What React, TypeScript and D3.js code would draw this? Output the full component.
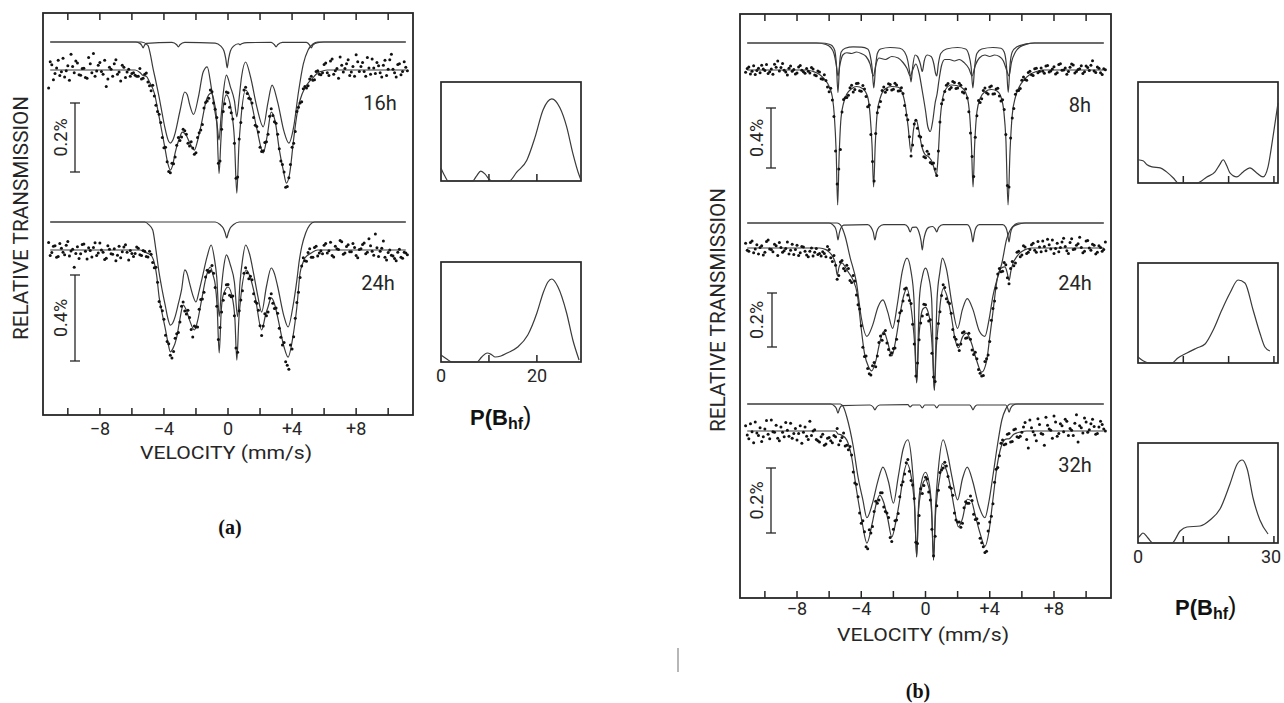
import React from "react";
import * as d3 from "d3";

type Pt = [number, number];
type Block = [number, number[]];

// ---------------- axis values ----------------
const velocityTicks = [-10, -8, -6, -4, -2, 0, 2, 4, 6, 8, 10];
const velocityLabels = [-8, -4, 0, 4, 8];
const channelStep = 0.2;

// ============ panel (a), 16 h (absorption in 0.01 % units) ============
const fitA16: Pt[] = [[-11.1,0],[-5.8,0],[-5.5,0.7],[-5.3,1.6],[-5.1,1.8],[-4.9,3.5],[-4.6,6.7],[-4.3,13.6],[-3.95,22.3],[-3.75,27.2],[-3.6,29],[-3.45,27.5],[-3.3,24],[-3.05,20],[-2.85,18],[-2.6,19],[-2.4,21],[-2.1,23.2],[-1.9,20.5],[-1.65,15.4],[-1.35,8.7],[-1.05,6.7],[-0.85,9.5],[-0.7,15],[-0.56,30],[-0.45,21],[-0.35,13],[-0.1,7.2],[0.2,11.6],[0.4,20],[0.55,35.7],[0.68,22],[0.8,14.5],[1.1,5.8],[1.4,8.5],[1.8,17],[2.2,24],[2.45,19],[2.7,12.2],[2.95,15],[3.2,23],[3.45,29],[3.65,32.8],[3.85,30],[4.1,20],[4.3,13],[4.5,8.7],[4.8,5.2],[5.05,3.5],[5.3,2.3],[5.6,0.8],[5.9,0.3],[6.2,0],[11.1,0]];
const broadA16: Pt[] = [[-11.1,0],[-5.4,0],[-5.0,1.0],[-4.85,3.5],[-4.7,7.2],[-4.5,11.5],[-4.3,16],[-4.1,21],[-3.95,24.6],[-3.75,28.3],[-3.6,29.3],[-3.45,28.5],[-3.3,26.4],[-3.0,20],[-2.7,14.5],[-2.55,15.2],[-2.4,18],[-2.15,21],[-1.85,16],[-1.55,8.7],[-1.3,7.2],[-1.05,13],[-0.82,20],[-0.68,24],[-0.56,28.4],[-0.44,22],[-0.3,15],[-0.1,9.6],[0.15,13],[0.4,17],[0.55,21.7],[0.7,16],[0.85,10],[1.1,5.8],[1.4,10],[1.8,18.8],[2.2,24.6],[2.5,17.4],[2.75,12.5],[3.1,17.4],[3.5,26],[3.8,29.3],[4.1,24.6],[4.4,14.5],[4.7,6.4],[5.0,2.3],[5.3,0.6],[5.6,0],[11.1,0]];
const sharpA16: Pt[] = [[-11.1,0],[-5.8,0],[-5.5,0.4],[-5.38,1.0],[-5.3,1.7],[-5.22,1.0],[-5.1,0.4],[-3.5,0.1],[-3.2,0.8],[-3.1,1.4],[-3.0,0.8],[-2.7,0.1],[-0.8,0.3],[-0.45,1.2],[-0.25,2.6],[-0.14,4.8],[-0.05,7.5],[0.04,4.8],[0.15,2.6],[0.35,1.2],[0.65,0.5],[0.75,0.8],[0.85,0.5],[1.2,0.2],[2.7,0.1],[2.9,0.8],[3.0,1.4],[3.1,0.8],[3.4,0.1],[4.9,0.1],[5.1,0.9],[5.2,1.7],[5.3,0.9],[5.6,0.2],[6,0],[11.1,0]];
const dataA16: Block[] = [
  [-11.2, [5.2,-1.5,1.0,-2.8,0.5,2.0,-1.2,-4.6,0.8,-2.0,1.5,-0.5,2.4,-1.8,-4.8,0.3,-2.2,1.2,4.8,-0.8,1.8,-3.0,0.6,-1.4,2.2,-0.2,1.0]],
  [-11.1, [-2.4,2.8,-0.6,1.6,-3.4,0.2,3.0,-1.0,-2.6,1.4,-0.4,2.2,-3.6,0.8,1.8,-1.4,0.4,-2.8,2.6,-0.2,-1.8,1.2,3.2,-0.8,0.6,1.8,0.8]],
  [-5.8, [1.5,1.8,2.6,1.2,3.5, 6.0,7.5,12.0,15.2,22.5, 26.6,29.8,27.2,21.8,20.4, 17.2,18.6,22.0,22.6,24.0, 18.2,15.8,9.4,8.2,6.3, 11.4,27.0,17.2,9.8,6.6, 12.4,21.2,31.0,15.2,5.8, 6.8,8.4,13.8,16.4,22.4, 23.4,20.8,13.4,13.2,15.4, 22.8,27.4,34.0,31.2,22.4, 17.8,10.8,9.2,4.8,4.6, 1.8,2.8,0.2,1.4]],
  [-5.7, [1.8,-0.4,2.4,0.9,4.6,4.4,10.2,12.8,19.6,22.4, 29.4,27.0,25.2,19.6,19.4,17.6,21.2,20.8,24.4,19.6, 17.4,11.0,9.0,5.8,9.6,13.8,26.4,12.0,6.4,10.8, 14.2,31.4,20.0,11.0,5.0,8.2,9.6,16.0,18.0,23.6, 21.0,18.6,11.2,15.0,18.6,26.4,29.6,33.8,27.4,21.2, 12.0,9.6,5.4,5.2,2.6,3.0,0.4,1.2]],
  [5.9, [0.8,-2.0,1.6,-3.2,0.2,2.4,-1.4,-0.4,-3.0,0.6,1.8,-2.4,-1.0,0.4,-3.6,1.2,-0.6,-2.2,0.8,-1.4,1.6,-3.0,-0.2,2.0,-1.8,0.4,-0.8]],
  [6.0, [-1.6,0.8,-2.6,1.2,-0.4,-3.8,0.6,-1.8,1.6,-1.0,-4.4,0.4,-2.2,1.8,-0.6,-3.2,1.0,-1.2,2.0,-2.8,-0.2,-4.6,0.8,-1.6,1.4,-2.4,0.2]],
];

// ============ panel (a), 24 h ============
const fitA24: Pt[] = [[-11.1,0],[-5.5,0],[-5.2,1.0],[-4.8,2.5],[-4.6,6],[-4.45,12],[-4.3,21.9],[-4.1,30],[-3.9,37.2],[-3.75,43],[-3.6,47.4],[-3.45,46],[-3.2,40.5],[-3.0,32],[-2.8,25.6],[-2.6,28],[-2.4,32.6],[-2.1,37.2],[-1.9,33],[-1.65,23.3],[-1.35,12],[-1.1,7.9],[-0.92,12],[-0.8,16],[-0.68,26],[-0.55,47.9],[-0.42,28],[-0.3,21],[0,17.2],[0.3,23.3],[0.43,32],[0.55,51.2],[0.68,32],[0.8,21.9],[1.15,9.3],[1.4,13],[1.7,21.9],[2.1,37.2],[2.35,30],[2.5,26.5],[2.7,22.3],[2.9,25],[3.1,31.2],[3.5,45.1],[3.75,49.8],[4.05,40.5],[4.3,26.5],[4.5,10.7],[4.65,6.5],[4.8,3.7],[5.2,1.4],[5.6,0],[11.1,0]];
const broadA24: Pt[] = [[-11.1,0],[-5.2,0],[-4.95,1.2],[-4.7,3.7],[-4.5,13],[-4.3,23.7],[-4.1,32],[-3.9,39.5],[-3.75,45],[-3.6,48],[-3.45,47],[-3.3,44],[-3.1,38],[-2.9,31.6],[-2.7,22.3],[-2.55,24],[-2.4,28.4],[-2.2,34],[-2.0,37.2],[-1.8,32],[-1.6,25.6],[-1.3,16],[-1.05,10.7],[-0.85,17],[-0.7,26],[-0.55,44],[-0.4,30],[-0.25,20],[-0.1,15.3],[0.15,20],[0.4,28],[0.6,44],[0.75,28],[0.9,18],[1.1,10.7],[1.35,15],[1.6,24],[1.85,34],[2.1,41.9],[2.4,30],[2.7,21.4],[2.9,24],[3.1,30],[3.5,44],[3.75,48.8],[4.05,39.5],[4.3,27],[4.45,18],[4.6,11.6],[4.85,5.1],[5.1,1.4],[5.4,0],[11.1,0]];
const sharpA24: Pt[] = [[-11.1,0],[-0.8,0],[-0.5,1.2],[-0.3,2.8],[-0.18,5.0],[-0.08,7.4],[0.02,5.0],[0.14,2.8],[0.35,1.2],[0.7,0],[11.1,0]];
const dataA24: Block[] = [
  [-11.2, [-3.5,1.2,-2.0,3.0,-0.8,2.2,-4.0,0.5,8.0,-1.5,1.8,-2.8,4.2,0.2,-1.2,2.6,-3.2,1.0,3.8,-0.4,2.0,5.0,-1.8,0.8,-2.4,4.6,1.6]],
  [-11.1, [2.6,-1.8,3.4,-3.0,1.0,-2.2,2.8,-0.4,1.6,4.0,-2.6,0.6,-1.0,3.2,-3.4,1.4,0.0,4.4,-2.0,1.8,-0.6,2.4,3.6,-1.4,1.0,0.2,3.0]],
  [-5.8, [1.6,-0.8,2.5,0.6,3.2, 2.0,8.2,15.0,26.4,32.2, 42.5,49.0,47.2,39.0,33.5, 24.2,29.8,31.4,40.5,35.8, 27.6,22.8,12.6,10.4,7.2, 17.4,41.6,28.8,20.2,16.0, 21.8,30.6,47.5,23.2,10.8, 10.6,12.2,20.4,24.8,35.2, 35.4,30.6,22.4,24.8,27.0, 36.4,44.2,52.0,55.5,46.0, 31.8,19.6,7.4,5.0,1.2, 3.4,-1.2,2.8,0.4]],
  [-5.7, [-1.4,2.2,0.2,3.0,0.6,5.8,8.0,24.0,28.2,39.6, 43.6,50.2,41.0,38.4,26.2,28.4,28.0,37.0,35.4,35.8, 23.0,19.6,9.4,9.8,10.8,26.2,36.0,23.4,16.2,21.0, 21.4,45.6,28.2,19.0,8.2,13.4,13.8,24.0,28.0,39.8, 29.6,28.8,20.4,27.2,29.4,40.6,43.0,53.6,44.2,40.4, 24.4,12.8,3.6,5.2,-0.6,3.4,-1.8,1.4]],
  [5.9, [1.8,-3.0,0.4,2.6,-1.8,-0.2,-3.8,1.4,-2.4,0.8,-1.2,3.6,-0.6,-3.2,1.0,-2.0,2.4,-1.0,0.6,-4.2,4.6,0.0,2.8,5.0,-0.4,3.8,1.4]],
  [6.0, [-2.2,1.4,-3.6,3.2,-0.6,-4.4,2.0,-1.6,0.8,-3.0,2.6,-0.2,-2.6,1.8,-5.2,0.6,-7.5,3.0,-0.8,3.4,1.2,2.4,4.0,1.0,3.4,1.0,2.2]],
];

// ============ panel (b), 8 h ============
const fitB8: Pt[] = [[-11.1,0],[-7.4,0],[-7.0,1],[-6.6,3],[-6.3,6],[-6.0,11],[-5.8,18],[-5.68,30],[-5.56,55],[-5.47,90],[-5.38,58],[-5.26,32],[-5.1,22],[-4.9,16],[-4.6,12.5],[-4.3,11],[-3.9,12.5],[-3.6,18],[-3.45,30],[-3.33,50],[-3.23,78],[-3.13,50],[-3.0,28],[-2.8,18],[-2.5,12.5],[-2.1,11],[-1.7,11.5],[-1.45,15],[-1.25,24],[-1.08,38],[-0.9,55],[-0.75,40],[-0.58,33],[-0.42,40],[-0.25,50],[-0.05,56],[0.2,58],[0.4,61],[0.55,66],[0.68,70],[0.8,55],[0.92,32],[1.05,20],[1.25,13],[1.6,10],[2.0,10.5],[2.35,12.5],[2.6,18],[2.75,30],[2.86,50],[2.96,78],[3.06,50],[3.2,28],[3.4,19],[3.7,14.5],[4.1,13],[4.45,14],[4.7,18],[4.88,28],[5.0,45],[5.14,90],[5.26,55],[5.4,30],[5.6,18],[5.85,11],[6.1,7],[6.5,3],[6.9,1],[7.3,0],[11.1,0]];
const broadB8: Pt[] = [[-11.1,0],[-6.8,0],[-6.2,1],[-5.9,3],[-5.7,7],[-5.55,15],[-5.45,22],[-5.32,14],[-5.15,8],[-4.9,6.5],[-4.6,7],[-4.3,6],[-4.0,7],[-3.7,9],[-3.45,14],[-3.25,22],[-3.08,14],[-2.9,10],[-2.5,11],[-2.1,9],[-1.7,10],[-1.4,13],[-1.15,17],[-0.95,22],[-0.8,18],[-0.6,14],[-0.4,20],[-0.2,32],[0.0,45],[0.15,56],[0.3,59],[0.45,52],[0.6,40],[0.72,34],[0.85,24],[1.0,15],[1.2,11],[1.5,11],[1.8,12],[2.1,11],[2.4,13],[2.7,17],[2.9,22],[3.1,15],[3.35,10],[3.7,8],[4.0,9],[4.3,8],[4.6,9],[4.85,12],[5.05,18],[5.2,22],[5.35,13],[5.6,6],[5.9,2.5],[6.3,0.8],[6.8,0],[11.1,0]];
const sharpB8: Pt[] = [[-11.1,0],[-6.5,0],[-6.0,0.8],[-5.8,2],[-5.65,5],[-5.55,14],[-5.45,33],[-5.35,14],[-5.25,6],[-5.0,3.5],[-4.5,2.6],[-4.0,2.8],[-3.6,4],[-3.45,8],[-3.33,16],[-3.22,30],[-3.11,16],[-3.0,7],[-2.8,4],[-2.2,3],[-1.6,3.5],[-1.3,6],[-1.1,12],[-0.98,20],[-0.9,26],[-0.8,16],[-0.65,8],[-0.5,9],[-0.32,14],[-0.2,19],[-0.08,12],[0.1,8],[0.35,9],[0.52,14],[0.62,20],[0.7,22],[0.8,14],[0.95,7],[1.3,4],[2.0,3],[2.5,4],[2.7,8],[2.84,16],[2.95,30],[3.06,16],[3.2,7],[3.5,4],[4.2,3],[4.7,3.5],[4.9,6],[5.04,15],[5.15,33],[5.26,15],[5.4,6],[5.7,2.5],[6.2,0.8],[6.8,0],[11.1,0]];
const dataB8: Block[] = [
  [-11.2, [1.5,-2.0,0.8,3.0,-1.2,-3.2,0.4,2.4,-0.6,-3.8,-6.0,-1.6,0.2,3.4,-2.6,-0.4,2.0,-3.0,1.2,-1.0]],
  [-11.1, [-1.0,2.6,-2.8,0.4,1.8,-0.6,-3.6,1.2,2.8,-1.8,0.6,-4.4,1.4,-1.2,0.8,2.6,-2.0,0.2,2.2,0.8]],
  [-7.2, [2.0,-0.6,3.8,1.4,6.2, 7.0,14.5,20.0,54,66, 28,18.5,16.8,10.2,13.0, 8.8,14.2,12.6,24.5,43, 74,28.5,21.0,11.4,13.2, 9.6,12.8,10.0,13.8,15.6, 30.0,44.5,50.0,33.5,44.0, 50.5,58.5,56.0,62.5,66.0, 54.0,22.5,14.4,9.0,11.6, 8.4,12.0,10.2,15.4,18.6, 42.0,71.0,30.5,21.6,13.6, 15.2,11.4,16.0,12.6,17.4, 19.8,43.0,78.0,32.0,16.2, 13.6,6.8,6.4,1.6,3.2, -0.8,1.8]],
  [-7.1, [-1.6,3.4,0.6,5.8,3.2,11.4,12.2,31.0,76,53, 19.6,18.4,11.8,14.6,9.0,13.8,10.4,17.6,23.4,61, 42.4,24.6,13.6,14.8,9.2,13.4,8.8,14.0,11.8,23.6, 33.2,57.4,36.0,38.8,44.6,57.8,54.2,61.6,62.0,70.4, 34.6,19.8,10.2,12.8,7.6,12.4,8.8,14.6,12.6,27.8, 57.6,44.8,20.4,19.2,12.0,16.0,10.6,15.8,12.2,20.6, 26.4,77.0,45.4,25.6,13.8,12.4,4.6,6.8,0.8,3.6, -1.2,1.0]],
  [7.2, [-1.4,2.2,-3.0,0.6,-2.2,1.8,-4.2,0.0,2.8,-1.8,-3.4,1.0,-0.8,2.4,-2.6,0.4,-6.2,1.6,-1.2,3.0,-0.2]],
  [7.3, [0.8,-2.6,1.4,-0.6,2.6,-3.6,0.2,-1.4,1.0,-4.0,2.0,-0.4,-2.8,1.2,-1.6,-3.2,0.6,-2.0,1.8,-0.8]],
];

// ============ panel (b), 24 h ============
const fitB24: Pt[] = [[-11.1,0],[-6.6,0],[-6.2,0.6],[-6.0,1.5],[-5.75,3.5],[-5.6,6],[-5.5,10],[-5.38,7],[-5.2,5.5],[-5.0,7],[-4.8,9],[-4.5,12],[-4.25,17],[-4.0,30],[-3.8,39],[-3.55,44],[-3.35,45.5],[-3.1,42],[-2.85,35],[-2.6,31],[-2.35,35],[-2.1,40],[-1.85,34],[-1.6,25],[-1.35,17.5],[-1.15,15],[-0.95,20],[-0.8,27],[-0.67,36],[-0.55,50],[-0.43,35],[-0.3,26],[-0.15,22.5],[0.0,22],[0.15,23.5],[0.3,28],[0.43,38],[0.55,52.6],[0.67,37],[0.8,28],[0.95,19],[1.1,15],[1.35,18],[1.6,25],[1.85,34],[2.05,37],[2.3,33],[2.55,31.5],[2.85,35],[3.15,41],[3.5,46],[3.8,42],[4.0,33],[4.2,23.7],[4.45,12],[4.7,7.5],[4.95,7],[5.08,9],[5.2,12],[5.32,8.5],[5.45,5.6],[5.65,3.5],[5.85,2],[6.2,0.6],[6.6,0],[11.1,0]];
const broadB24: Pt[] = [[-11.1,0],[-5.5,0],[-5.3,0.7],[-5.0,5],[-4.7,12.6],[-4.3,22],[-4.0,35],[-3.65,42],[-3.3,38],[-2.95,31],[-2.65,28.5],[-2.35,33],[-2.05,39],[-1.75,30],[-1.45,18],[-1.15,13],[-0.9,18],[-0.72,28],[-0.55,59],[-0.38,28],[-0.2,20],[0,16.7],[0.2,20],[0.38,28],[0.55,62],[0.72,28],[0.9,18],[1.05,13],[1.3,17],[1.65,30],[2.0,39],[2.3,32],[2.6,28],[2.95,32],[3.35,40],[3.7,42],[3.95,36],[4.2,27],[4.45,21],[4.75,15],[5.05,6],[5.4,1.5],[5.8,0],[11.1,0]];
const sharpB24: Pt[] = [[-11.1,0],[-6.0,0],[-5.75,0.8],[-5.6,2],[-5.52,3.8],[-5.45,6.3],[-5.37,3.8],[-5.28,2],[-5.1,0.8],[-3.6,0.6],[-3.4,1.5],[-3.25,3.5],[-3.15,6.3],[-3.05,3.5],[-2.9,1.5],[-2.6,0.6],[-1.3,0.6],[-1.08,1.6],[-0.95,3.3],[-0.82,1.6],[-0.6,1.5],[-0.4,3.5],[-0.28,6.5],[-0.2,10],[-0.12,6.5],[0.0,3.5],[0.2,1.6],[0.45,1.3],[0.6,2.2],[0.7,3.3],[0.82,1.6],[1.1,0.6],[2.6,0.6],[2.75,1.6],[2.86,3.8],[2.95,7],[3.04,3.8],[3.15,1.6],[3.35,0.6],[4.8,0.6],[5.0,1.6],[5.11,3.8],[5.2,7],[5.29,3.8],[5.42,1.6],[5.7,0.6],[6.2,0],[11.1,0]];
const dataB24: Block[] = [
  [-11.2, [-1.8,1.2,-2.6,0.4,2.2,-0.8,1.6,-3.0,0.6,-1.4,2.8,-0.2,1.0,-2.2,0.8,2.4,-1.0,1.8,-0.4,2.6,1.2,3.0,0.2,2.0]],
  [-11.1, [0.8,-2.0,1.8,-1.2,-0.2,2.6,-2.4,0.4,1.4,-0.8,-2.0,1.6,0.2,2.2,-1.4,0.6,2.8,-0.6,1.2,3.2,0.0,1.6,2.4,3.0]],
  [-6.4, [1.4,3.2,0.6,5.0,6.4, 10.2,4.6,8.4,7.6,12.8, 12.2,21.0,28.8,40.2,44.6, 47.0,42.4,40.0,32.6,31.8, 35.2,39.6,37.2,33.8,24.0, 19.6,14.8,19.4,28.2,47.4, 34.0,25.2,21.0,27.0,39.0, 49.4,28.0,17.6,14.6,20.0, 24.2,33.0,35.8,35.6,31.0, 33.2,33.8,39.4,41.0,46.4, 47.2,41.0,34.6,22.4,14.8, 7.6,8.6,6.2,13.2,5.0, 5.6,1.2,2.6,-0.4,1.6]],
  [-6.3, [2.0,-0.6,3.6,2.8,11.6,5.2,7.6,6.4,12.0,10.2, 17.4,22.6,36.8,40.0,46.6,43.6,44.0,35.0,34.2,30.6, 37.6,38.8,37.0,27.0,23.2,15.2,17.4,20.6,35.6,42.6, 27.8,20.8,24.6,26.6,47.8,33.4,23.6,13.6,18.8,20.6, 30.2,33.8,38.0,31.4,33.4,31.6,37.8,38.6,45.0,47.4, 42.0,39.6,26.8,19.6,9.6,8.8,5.4,11.0,7.6,6.6, 1.6,3.2,-0.8,2.0]],
  [6.5, [0.6,-1.8,1.6,-0.4,-2.6,1.0,-1.2,-3.0,0.2,1.4,-2.2,-0.6,2.0,-3.4,0.4,-1.6,-0.2,1.2,-2.8,0.8,-1.0,1.6,-0.2,0.6]],
  [6.6, [-1.2,0.8,-2.4,1.4,-0.6,-3.2,0.4,2.0,-1.8,-0.2,-3.6,1.0,-2.0,0.6,-1.0,-4.0,1.8,-2.6,0.0,-1.4,2.2,-0.8,1.2,-2.2]],
];

// ============ panel (b), 32 h ============
const fitB32: Pt[] = [[-11.1,0],[-5.6,0],[-5.45,0.9],[-5.25,1.2],[-4.9,2.8],[-4.6,8],[-4.3,18],[-3.95,28],[-3.65,34.5],[-3.3,28],[-3.05,22],[-2.85,19.7],[-2.6,22],[-2.35,27],[-2.1,32.6],[-1.85,28],[-1.6,21],[-1.35,13],[-1.15,10],[-0.95,12.5],[-0.8,17],[-0.67,24],[-0.55,38.8],[-0.45,26],[-0.3,19],[-0.15,16],[0,15],[0.15,16.5],[0.3,20],[0.4,27],[0.5,39.7],[0.62,26],[0.75,19],[0.9,14],[1.05,10],[1.3,12],[1.55,17],[1.8,24],[2.05,29.5],[2.3,27],[2.6,21],[2.85,21.5],[3.1,26],[3.4,31.5],[3.7,35.5],[3.95,31],[4.2,21],[4.45,11],[4.7,5],[5.0,2.5],[5.2,2.4],[5.5,1],[5.9,0.3],[6.3,0],[11.1,0]];
const broadB32: Pt[] = [[-11.1,0],[-5.3,0],[-5.1,1],[-4.9,4],[-4.7,8],[-4.5,13],[-4.2,22.5],[-3.9,29.5],[-3.65,35],[-3.3,30.5],[-2.95,23.4],[-2.65,19.4],[-2.3,24],[-2.0,30.5],[-1.7,22.5],[-1.4,14],[-1.1,11],[-0.85,18],[-0.7,28],[-0.55,47],[-0.42,30],[-0.25,24],[0,21],[0.25,25],[0.38,32],[0.5,48],[0.62,32],[0.8,20],[1.1,11],[1.4,16],[1.65,22.5],[2.0,29.5],[2.3,23],[2.6,19.4],[2.95,24],[3.3,31],[3.7,35],[3.95,30],[4.2,22],[4.5,12],[4.75,5],[5.0,1.5],[5.3,0],[11.1,0]];
const sharpB32: Pt[] = [[-11.1,0],[-5.9,0],[-5.7,0.5],[-5.55,1.4],[-5.45,2.8],[-5.35,1.4],[-5.2,0.5],[-3.45,0.3],[-3.25,1.0],[-3.15,1.8],[-3.05,1.0],[-2.85,0.3],[-1.1,0.2],[-0.95,0.9],[-0.8,0.3],[-0.35,0.3],[-0.2,1.2],[-0.05,0.3],[0.55,0.3],[0.7,1.2],[0.85,0.3],[2.75,0.3],[2.87,1.0],[2.95,1.8],[3.05,1.0],[3.2,0.3],[5.0,0.3],[5.12,1.3],[5.2,2.5],[5.3,1.3],[5.45,0.4],[5.7,0],[11.1,0]];
const dataB32: Block[] = [
  [-11.2, [-1.6,2.4,0.2,-2.8,1.4,3.2,-0.6,1.0,-3.4,0.4,2.2,-1.2,1.8,-0.2,-2.4,0.8,2.8,-1.6,0.4,1.6,-3.0,0.0,2.6,3.4,1.0,4.0,2.0]],
  [-11.1, [1.2,-2.2,3.6,0.6,-1.0,1.8,-3.2,2.4,0.2,-1.8,3.0,0.4,-2.6,1.6,2.2,-0.8,0.8,3.8,-1.2,2.6,1.4,-0.4,3.0,1.8,4.4,2.2,3.0]],
  [-5.8, [3.6,1.8,4.2,2.0,4.6, 5.8,7.4,16.0,20.2,28.4, 31.0,36.2,31.4,24.8,22.2, 19.0,23.4,25.2,32.8,30.2, 27.4,20.2,15.6,9.8,12.4, 16.6,34.2,26.0,19.2,14.2, 18.8,30.2,32.4,18.2,12.0, 9.6,14.0,17.6,25.2,28.0, 29.6,23.6,22.2,20.0,25.6, 27.0,33.0,35.6,37.0,28.0, 22.4,11.8,7.6,2.8,4.0, 0.8,3.2,-0.6,2.0]],
  [-5.7, [1.4,-0.8,3.0,0.6,4.4,4.8,12.6,16.4,25.2,27.6, 35.6,30.4,29.4,21.6,21.2,19.0,24.8,26.6,34.0,27.6, 25.4,16.6,13.2,8.8,15.2,20.8,34.6,17.8,16.8,14.8, 21.2,38.4,23.0,12.8,11.4,10.8,17.2,19.8,27.4,28.0, 28.4,21.8,22.2,21.4,27.2,28.4,34.4,37.4,30.8,26.2, 15.8,11.2,3.8,4.2,1.0,3.4,-0.4,1.8]],
  [5.9, [1.6,-1.2,2.6,-3.4,0.2,3.0,-2.0,1.0,-4.2,-0.6,2.2,-2.8,0.8,-1.6,-3.6,1.4,-0.2,-2.4,3.4,-1.0,-4.0,0.4,-2.2,-1.4,0.8,-3.0,-0.6]],
  [6.0, [0.4,-2.6,5.2,-1.0,1.2,-3.8,0.8,4.4,-1.8,-0.2,-4.6,1.6,-2.2,0.2,-3.0,-0.8,1.4,-5.0,-1.6,0.6,-2.8,-0.4,-3.6,1.0,-1.2,-2.0,0.0]],
];

// ============ hyperfine-field distributions P(Bhf) ============
const pA16: Pt[] = [[0,0.13],[0.8,0.05],[1.5,0],[6.6,0],[7.4,0.05],[8.3,0.1],[9.2,0.07],[10,0.02],[10.6,0],[14.2,0],[15.8,0.09],[17.9,0.21],[19.6,0.44],[21.3,0.72],[23.1,0.83],[24.8,0.74],[26.2,0.55],[27.5,0.28],[28.8,0.06],[29.2,0.01]];
const pA24: Pt[] = [[0,0.07],[1.2,0.03],[2.3,0],[7.5,0],[8.5,0.05],[9.6,0.09],[10.5,0.075],[11.3,0.05],[12.5,0.06],[13.8,0.09],[16,0.15],[18.1,0.27],[20,0.49],[21.3,0.69],[22.3,0.8],[23.1,0.83],[24.4,0.75],[26.2,0.49],[27.5,0.22],[28.8,0.02]];
const pB8: Pt[] = [[0,0.23],[1.1,0.22],[2,0.18],[3.1,0.16],[4.9,0.15],[6.3,0.11],[7.8,0.05],[8.9,0],[13,0],[15.2,0.06],[17,0.11],[18,0.18],[18.8,0.23],[19.6,0.17],[20.3,0.1],[21.8,0.06],[23.2,0.11],[24.7,0.15],[26.2,0.1],[27.6,0.06],[28.7,0.16],[29.8,0.46],[30.9,0.79]];
const pB24: Pt[] = [[0,0.06],[1.2,0.02],[2.6,0],[7.5,0],[8.8,0.05],[10.8,0.1],[13,0.15],[14.8,0.19],[16.6,0.33],[18.5,0.53],[20.3,0.7],[22.1,0.83],[23.6,0.8],[25.4,0.53],[26.9,0.3],[28,0.16],[29.1,0.12]];
const pB32: Pt[] = [[0,0.05],[0.4,0.07],[1.1,0.1],[2.2,0.05],[3.3,0],[7.5,0],[9.3,0.12],[10.8,0.16],[13.7,0.17],[15.9,0.23],[18.1,0.34],[20.3,0.59],[21.9,0.79],[23,0.83],[24.1,0.74],[25.4,0.45],[26.9,0.23],[28.7,0.09]];

// ---------------- styling ----------------
const FONT = "Roboto, 'DejaVu Sans', sans-serif";
const INK = "#262626";
const CURVE = "#3a3a3a";

type SpecCfg = {
  name: string; nameX: number; nameY: number;
  compBase: number; fitBase: number; ppu: number;
  barX: number; barTop: number; barUnits: number; barLabel: string; barLabelX: number;
  fit: Pt[]; broad: Pt[]; sharp: Pt[]; data: Block[];
};

function Spectrum({ xs, s }: { xs: d3.ScaleLinear<number, number>; s: SpecCfg }) {
  const yC = d3.scaleLinear().domain([0, 100]).range([s.compBase, s.compBase + 100 * s.ppu]);
  const yF = d3.scaleLinear().domain([0, 100]).range([s.fitBase, s.fitBase + 100 * s.ppu]);
  const lineC = d3.line<Pt>().x(d => xs(d[0])).y(d => yC(d[1])).curve(d3.curveMonotoneX);
  const lineF = d3.line<Pt>().x(d => xs(d[0])).y(d => yF(d[1])).curve(d3.curveMonotoneX);
  const pts: Pt[] = s.data.flatMap(([start, vals]) => vals.map((v, i) => [start + i * channelStep, v] as Pt));
  const barLen = yF(s.barUnits) - yF(0);
  const barMid = s.barTop + barLen / 2;
  return (
    <g>
      <path d={lineC(s.sharp) || ""} fill="none" stroke={CURVE} strokeWidth={1.2} />
      <path d={lineC(s.broad) || ""} fill="none" stroke={CURVE} strokeWidth={1.2} />
      <path d={lineF(s.fit) || ""} fill="none" stroke={CURVE} strokeWidth={1.2} />
      {pts.map((p, i) => (
        <circle key={i} cx={xs(p[0])} cy={yF(p[1])} r={1.5} fill="#111" />
      ))}
      <line x1={s.barX} x2={s.barX} y1={s.barTop} y2={s.barTop + barLen} stroke={INK} strokeWidth={1.3} />
      <line x1={s.barX - 5} x2={s.barX + 5} y1={s.barTop} y2={s.barTop} stroke={INK} strokeWidth={1.3} />
      <line x1={s.barX - 5} x2={s.barX + 5} y1={s.barTop + barLen} y2={s.barTop + barLen} stroke={INK} strokeWidth={1.3} />
      <text x={s.barLabelX} y={barMid} transform={`rotate(-90 ${s.barLabelX} ${barMid})`} textAnchor="middle"
        dominantBaseline="central" fontFamily={FONT} fontSize={18} fill={INK}>{s.barLabel}</text>
      <text x={s.nameX} y={s.nameY} textAnchor="middle" fontFamily={FONT} fontSize={20} fill={INK}>{s.name}</text>
    </g>
  );
}

function Frame({ xs, top, bottom, labelY, titleY, titleX, ylabX }: any) {
  const [l, r] = xs.range();
  const midY = (top + bottom) / 2;
  return (
    <g>
      <rect x={l} y={top} width={r - l} height={bottom - top} fill="none" stroke={INK} strokeWidth={1.8} />
      {velocityTicks.map(t => (
        <g key={t}>
          <line x1={xs(t)} x2={xs(t)} y1={top} y2={top + 7} stroke={INK} strokeWidth={1.5} />
          <line x1={xs(t)} x2={xs(t)} y1={bottom} y2={bottom - 7} stroke={INK} strokeWidth={1.5} />
        </g>
      ))}
      {velocityLabels.map(t => (
        <text key={t} x={xs(t)} y={labelY} textAnchor="middle" fontFamily={FONT} fontSize={18} fill={INK}>
          {t > 0 ? `+${t}` : t < 0 ? `\u2212${-t}` : "0"}
        </text>
      ))}
      <text x={titleX} y={titleY} textAnchor="middle" fontFamily={FONT} fontSize={19} fill={INK}
        textLength={172} lengthAdjust="spacingAndGlyphs">VELOCITY (mm/s)</text>
      <text x={ylabX} y={midY + 4} transform={`rotate(-90 ${ylabX} ${midY + 4})`} textAnchor="middle"
        dominantBaseline="central" fontFamily={FONT} fontSize={20} fill={INK}
        textLength={244} lengthAdjust="spacingAndGlyphs">RELATIVE TRANSMISSION</text>
    </g>
  );
}

function PBox({ left, right, top, bottom, maxB, ticks, data }: any) {
  const x = d3.scaleLinear().domain([0, maxB]).range([left, right]);
  const y = d3.scaleLinear().domain([0, 1]).range([bottom, top]);
  const line = d3.line<Pt>().x(d => x(d[0])).y(d => y(d[1])).curve(d3.curveMonotoneX);
  return (
    <g>
      <rect x={left} y={top} width={right - left} height={bottom - top} fill="none" stroke={INK} strokeWidth={1.7} />
      {ticks.map((t: number) => (
        <line key={t} x1={x(t)} x2={x(t)} y1={bottom} y2={bottom - 7} stroke={INK} strokeWidth={1.5} />
      ))}
      <path d={line(data) || ""} fill="none" stroke={CURVE} strokeWidth={1.2} />
    </g>
  );
}

function PLabel({ x, y }: { x: number; y: number }) {
  return (
    <text x={x} y={y} fontFamily="'Liberation Sans', Arial, sans-serif" fill="#111">
      <tspan fontSize={22} fontWeight="bold">P(B</tspan>
      <tspan fontSize={16} fontWeight="bold" dy={4}>hf</tspan>
      <tspan fontSize={25} dy={-4}>)</tspan>
    </text>
  );
}

export default function App() {
  const xa = d3.scaleLinear().domain([-11.55, 11.55]).range([43, 413]);
  const xb = d3.scaleLinear().domain([-11.55, 11.55]).range([740, 1111]);

  const specA: SpecCfg[] = [
    { name: "16h", nameX: 380, nameY: 110, compBase: 42, fitBase: 70, ppu: 3.45, barX: 75, barTop: 103, barUnits: 20, barLabel: "0.2%", barLabelX: 60, fit: fitA16, broad: broadA16, sharp: sharpA16, data: dataA16 },
    { name: "24h", nameX: 378, nameY: 290, compBase: 222, fitBase: 250, ppu: 2.15, barX: 75, barTop: 275, barUnits: 40, barLabel: "0.4%", barLabelX: 60, fit: fitA24, broad: broadA24, sharp: sharpA24, data: dataA24 },
  ];
  const specB: SpecCfg[] = [
    { name: "8h", nameX: 1080, nameY: 112, compBase: 43, fitBase: 70, ppu: 1.5, barX: 771, barTop: 108, barUnits: 40, barLabel: "0.4%", barLabelX: 756, fit: fitB8, broad: broadB8, sharp: sharpB8, data: dataB8 },
    { name: "24h", nameX: 1075, nameY: 290, compBase: 223, fitBase: 248, ppu: 2.7, barX: 772, barTop: 293, barUnits: 20, barLabel: "0.2%", barLabelX: 756, fit: fitB24, broad: broadB24, sharp: sharpB24, data: dataB24 },
    { name: "32h", nameX: 1075, nameY: 472, compBase: 404, fitBase: 431, ppu: 3.25, barX: 771, barTop: 468, barUnits: 20, barLabel: "0.2%", barLabelX: 756, fit: fitB32, broad: broadB32, sharp: sharpB32, data: dataB32 },
  ];

  return (
    <div style={{ position: "absolute", left: 0, top: 0, width: 1284, height: 703, background: "#fff" }}>
      <svg width={1284} height={703} viewBox="0 0 1284 703" style={{ display: "block" }}>
        <rect x={0} y={0} width={1284} height={703} fill="#fff" />
        {/* panel (a) */}
        <Frame xs={xa} top={13} bottom={415} labelY={435} titleX={226} titleY={459} ylabX={21} />
        {specA.map(s => <Spectrum key={s.name + "a"} xs={xa} s={s} />)}
        <PBox left={441} right={581} top={82} bottom={181} maxB={29.2} ticks={[10, 20]} data={pA16} />
        <PBox left={441} right={581} top={262} bottom={362} maxB={29.2} ticks={[10, 20]} data={pA24} />
        <text x={441} y={382} textAnchor="middle" fontFamily={FONT} fontSize={18} fill={INK}>0</text>
        <text x={537} y={382} textAnchor="middle" fontFamily={FONT} fontSize={18} fill={INK}>20</text>
        <PLabel x={470} y={425} />
        <text x={230} y={534} textAnchor="middle" fontFamily="'Liberation Serif', 'Times New Roman', serif" fontWeight="bold" fontSize={20} fill="#111">(a)</text>

        {/* panel (b) */}
        <Frame xs={xb} top={14} bottom={598} labelY={615} titleX={923} titleY={641} ylabX={718} />
        {specB.map(s => <Spectrum key={s.name + "b"} xs={xb} s={s} />)}
        <PBox left={1138} right={1278} top={82} bottom={183} maxB={30.9} ticks={[10, 20, 30]} data={pB8} />
        <PBox left={1138} right={1278} top={263} bottom={363} maxB={30.9} ticks={[10, 20, 30]} data={pB24} />
        <PBox left={1138} right={1278} top={443} bottom={543} maxB={30.9} ticks={[10, 20, 30]} data={pB32} />
        <text x={1138} y={563} textAnchor="middle" fontFamily={FONT} fontSize={18} fill={INK}>0</text>
        <text x={1271} y={563} textAnchor="middle" fontFamily={FONT} fontSize={18} fill={INK}>30</text>
        <PLabel x={1175} y={615} />
        <line x1={678} x2={678} y1={648} y2={672} stroke="#999" strokeWidth={1.4} />
        <text x={918} y={698} textAnchor="middle" fontFamily="'Liberation Serif', 'Times New Roman', serif" fontWeight="bold" fontSize={20} fill="#111">(b)</text>
      </svg>
    </div>
  );
}
